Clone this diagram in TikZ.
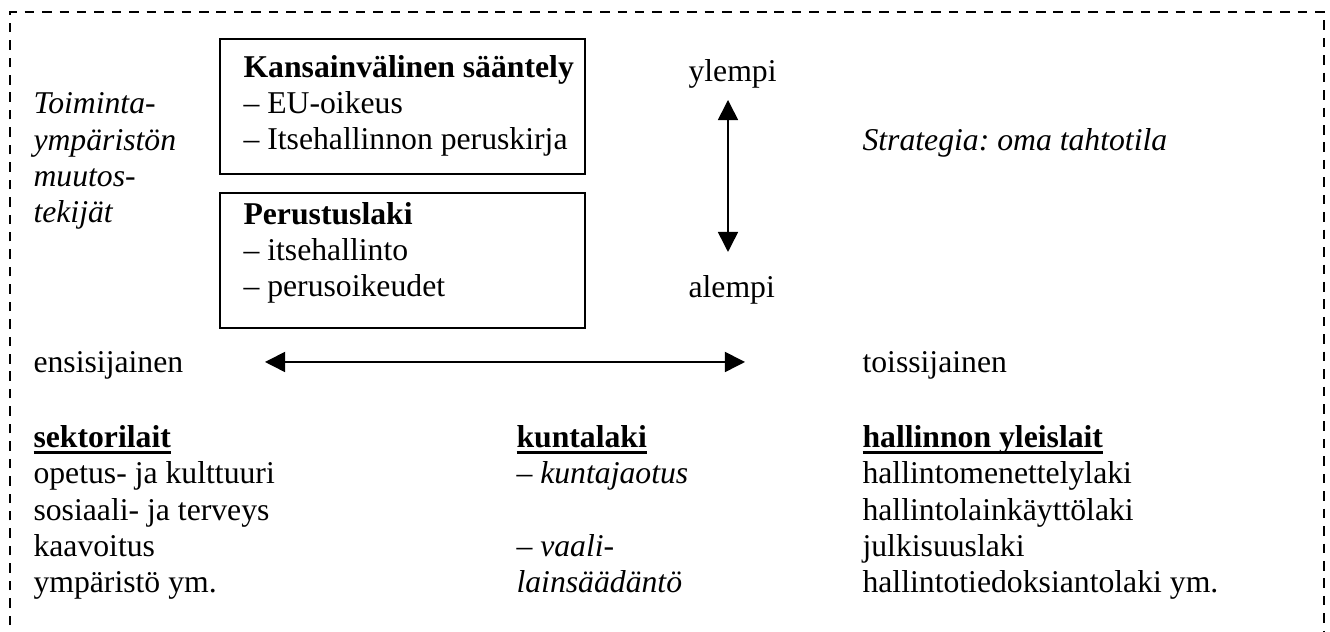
\documentclass[tikz,border=0pt]{standalone}
\usepackage{fontspec}
\setmainfont{Liberation Serif}
\frenchspacing
\usetikzlibrary{positioning,arrows.meta}
\tikzset{
teksti/.style={
  anchor=base west,
  inner sep=0pt,
  align=left,
  font=\fontsize{12pt}{13.8pt}\selectfont
},
laatikko/.style={
  draw,
  line width=0.6pt,
  anchor=north west,
  minimum width=138.2pt,
  minimum height=51.1pt,
  inner sep=0pt
},
nuoli/.style={line width=0.6pt, {Triangle[length=7.6pt,width=7.6pt]}-{Triangle[length=7.6pt,width=7.6pt]}},
reuna/.style={line width=0.75pt, dash pattern=on 3.6pt off 3pt}
}
\newcommand{\otsikko}[1]{\setbox0=\hbox{\bfseries #1}\rlap{\rule[-2.7pt]{\wd0}{1.2pt}}\box0}

\begin{document}
\begin{tikzpicture}[x=0.3785pt, y=-0.3785pt]
  \useasboundingbox (0,0) rectangle (1330,632);
  \draw[reuna] (10,660) -- (10,12) -- (1324,12) -- (1324,660);

  % monirivisen tekstin base = viimeisen rivin perusviiva
  \node[laatikko] (kansainv) at (219,38) {};
  \node[laatikko] (perustus) at (219,192) {};
  \node[teksti] (kv) at (243,150) {\textbf{Kansainvälinen sääntely}\\– EU-oikeus\\– Itsehallinnon peruskirja};
  \node[teksti] (pl) at (243,297) {\textbf{Perustuslaki}\\– itsehallinto\\– perusoikeudet};

  \node[teksti] (muutos) at (33,223) {\itshape Toiminta-\\\itshape ympäristön\\\itshape muutos-\\\itshape tekijät};
  \node[teksti] (ylempi) at (688,82) {ylempi};
  \node[teksti] (alempi) at (688,298) {alempi};
  \node[teksti] (strategia) at (862,151) {\itshape Strategia: oma tahtotila};

  \coordinate (ylapaa) at (728,100);
  \coordinate (alapaa) at (728,252);
  \draw[nuoli] (ylapaa) -- (alapaa);

  \node[teksti] (ensi) at (33,373) {ensisijainen};
  \node[teksti] (toissi) at (862,373) {toissijainen};
  \coordinate (vasen) at (265,362);
  \coordinate (oikea) at (745,362);
  \draw[nuoli] (vasen) -- (oikea);

  \node[teksti] (sektori) at (33,593) {\otsikko{sektorilait}\\opetus- ja kulttuuri\\sosiaali- ja terveys\\kaavoitus\\ympäristö ym.};
  \node[teksti] (kunta) at (516,593) {\otsikko{kuntalaki}\\– \textit{kuntajaotus}\\\mbox{}\\– \textit{vaali-}\\\textit{lainsäädäntö}};
  \node[teksti] (yleis) at (862,593) {\otsikko{hallinnon yleislait}\\hallintomenettelylaki\\hallintolainkäyttölaki\\julkisuuslaki\\hallintotiedoksiantolaki ym.};
\end{tikzpicture}
\end{document}
